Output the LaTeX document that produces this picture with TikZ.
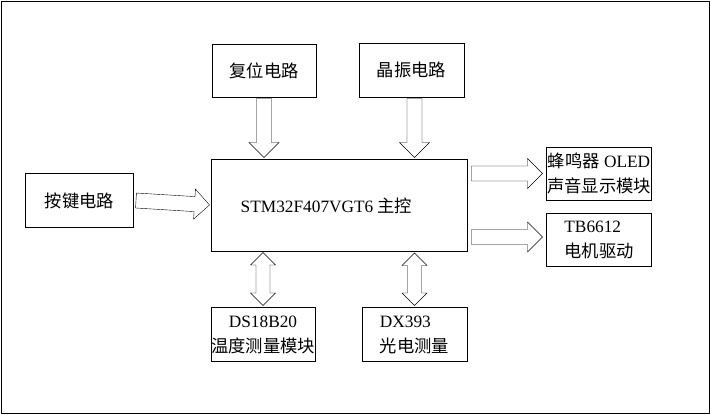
\documentclass[tikz,border=0pt]{standalone}
\usepackage{fontspec}
\setmainfont{Liberation Serif}
\newfontfamily\cjk{Noto Sans CJK SC}
\usetikzlibrary{calc}

\tikzset{
  box/.style={draw, line width=1pt, inner sep=0pt, align=center},
  % hollow block arrow, one head
  fatarrow/.style={line width=1pt, to path={
    let \p1=(\tikztostart), \p2=(\tikztotarget),
        \n1={veclen(\x2-\x1,\y2-\y1)}, \n2={atan2(\y2-\y1,\x2-\x1)} in
    ($(\p1)+(\n2+90:7.5pt)$) -- ($(\p1)+(\n2:\n1-15pt)+(\n2+90:7.5pt)$)
    -- ($(\p1)+(\n2:\n1-15pt)+(\n2+90:15pt)$) -- (\p2)
    -- ($(\p1)+(\n2:\n1-15pt)+(\n2-90:15pt)$)
    -- ($(\p1)+(\n2:\n1-15pt)+(\n2-90:7.5pt)$)
    -- ($(\p1)+(\n2-90:7.5pt)$) -- cycle}},
  % hollow block arrow, two heads
  dblarrow/.style={line width=1pt, to path={
    let \p1=(\tikztostart), \p2=(\tikztotarget),
        \n1={veclen(\x2-\x1,\y2-\y1)}, \n2={atan2(\y2-\y1,\x2-\x1)} in
    (\p1) -- ($(\p1)+(\n2:12.5pt)+(\n2+90:12.5pt)$)
    -- ($(\p1)+(\n2:12.5pt)+(\n2+90:7pt)$)
    -- ($(\p1)+(\n2:\n1-12.5pt)+(\n2+90:7pt)$)
    -- ($(\p1)+(\n2:\n1-12.5pt)+(\n2+90:12.5pt)$) -- (\p2)
    -- ($(\p1)+(\n2:\n1-12.5pt)+(\n2-90:12.5pt)$)
    -- ($(\p1)+(\n2:\n1-12.5pt)+(\n2-90:7pt)$)
    -- ($(\p1)+(\n2:12.5pt)+(\n2-90:7pt)$)
    -- ($(\p1)+(\n2:12.5pt)+(\n2-90:12.5pt)$) -- cycle}},
}

\begin{document}
\begin{tikzpicture}[x=1pt,y=-1pt,font=\fontsize{17.3pt}{25pt}\selectfont]
\useasboundingbox (0,0) rectangle (710,415);
\draw[line width=1pt] (1,1) rectangle (709,413);

% input blocks
\node[box, minimum width=104pt, minimum height=53pt] (reset) at (264,70.5) {{\cjk 复位电路}};
\node[box, minimum width=105pt, minimum height=54pt] (xtal) at (411.5,70) {{\cjk 晶振电路}};
\node[box, minimum width=108pt, minimum height=54pt] (key) at (79.5,200.5) {{\cjk 按键电路}};

% controller
\node[box, minimum width=256pt, minimum height=92pt] (main) at (339,205) {};
\node (maintext) at (326.5,206) {STM32F407VGT6 {\cjk 主控}};

% output blocks
\node[box, minimum width=105pt, minimum height=53pt] (buzz) at (599,173.5) {{\cjk 蜂鸣器} OLED\\{\cjk 声音显示模块}};
\node[box, minimum width=105pt, minimum height=53pt, align=left] (motor) at (599,240) {TB6612\\{\cjk 电机驱动}};
\node[box, minimum width=104pt, minimum height=54pt] (temp) at (263,334.5) {DS18B20\\{\cjk 温度测量模块}};
\node[box, minimum width=105pt, minimum height=54pt, align=left] (light) at (414.5,334.5) {DX393\\{\cjk 光电测量}};

% block arrows
\coordinate (xtip) at ([xshift=3pt]xtal.south |- main.north);
\coordinate (mtip) at ([xshift=-3.5pt,yshift=3pt]motor.west);
\draw ([yshift=-1pt]reset.south) to[fatarrow] ([yshift=1pt]reset.south |- main.north);
\draw ([yshift=-1pt]xtip |- xtal.south) to[fatarrow] ([yshift=1pt]xtip);
\draw ([xshift=2pt]key.east) to[fatarrow] ([xshift=-1pt]main.west);
\draw ([xshift=4pt]main.east |- buzz.west) to[fatarrow] ([xshift=-3.5pt]buzz.west);
\draw ([xshift=4pt]main.east |- mtip) to[fatarrow] (mtip);
\draw ([yshift=-1pt]main.south -| temp.north) to[dblarrow] ([yshift=1.5pt]temp.north);
\draw ([yshift=-1.5pt]main.south -| light.north) to[dblarrow] ([yshift=1.5pt]light.north);

\end{tikzpicture}
\end{document}
